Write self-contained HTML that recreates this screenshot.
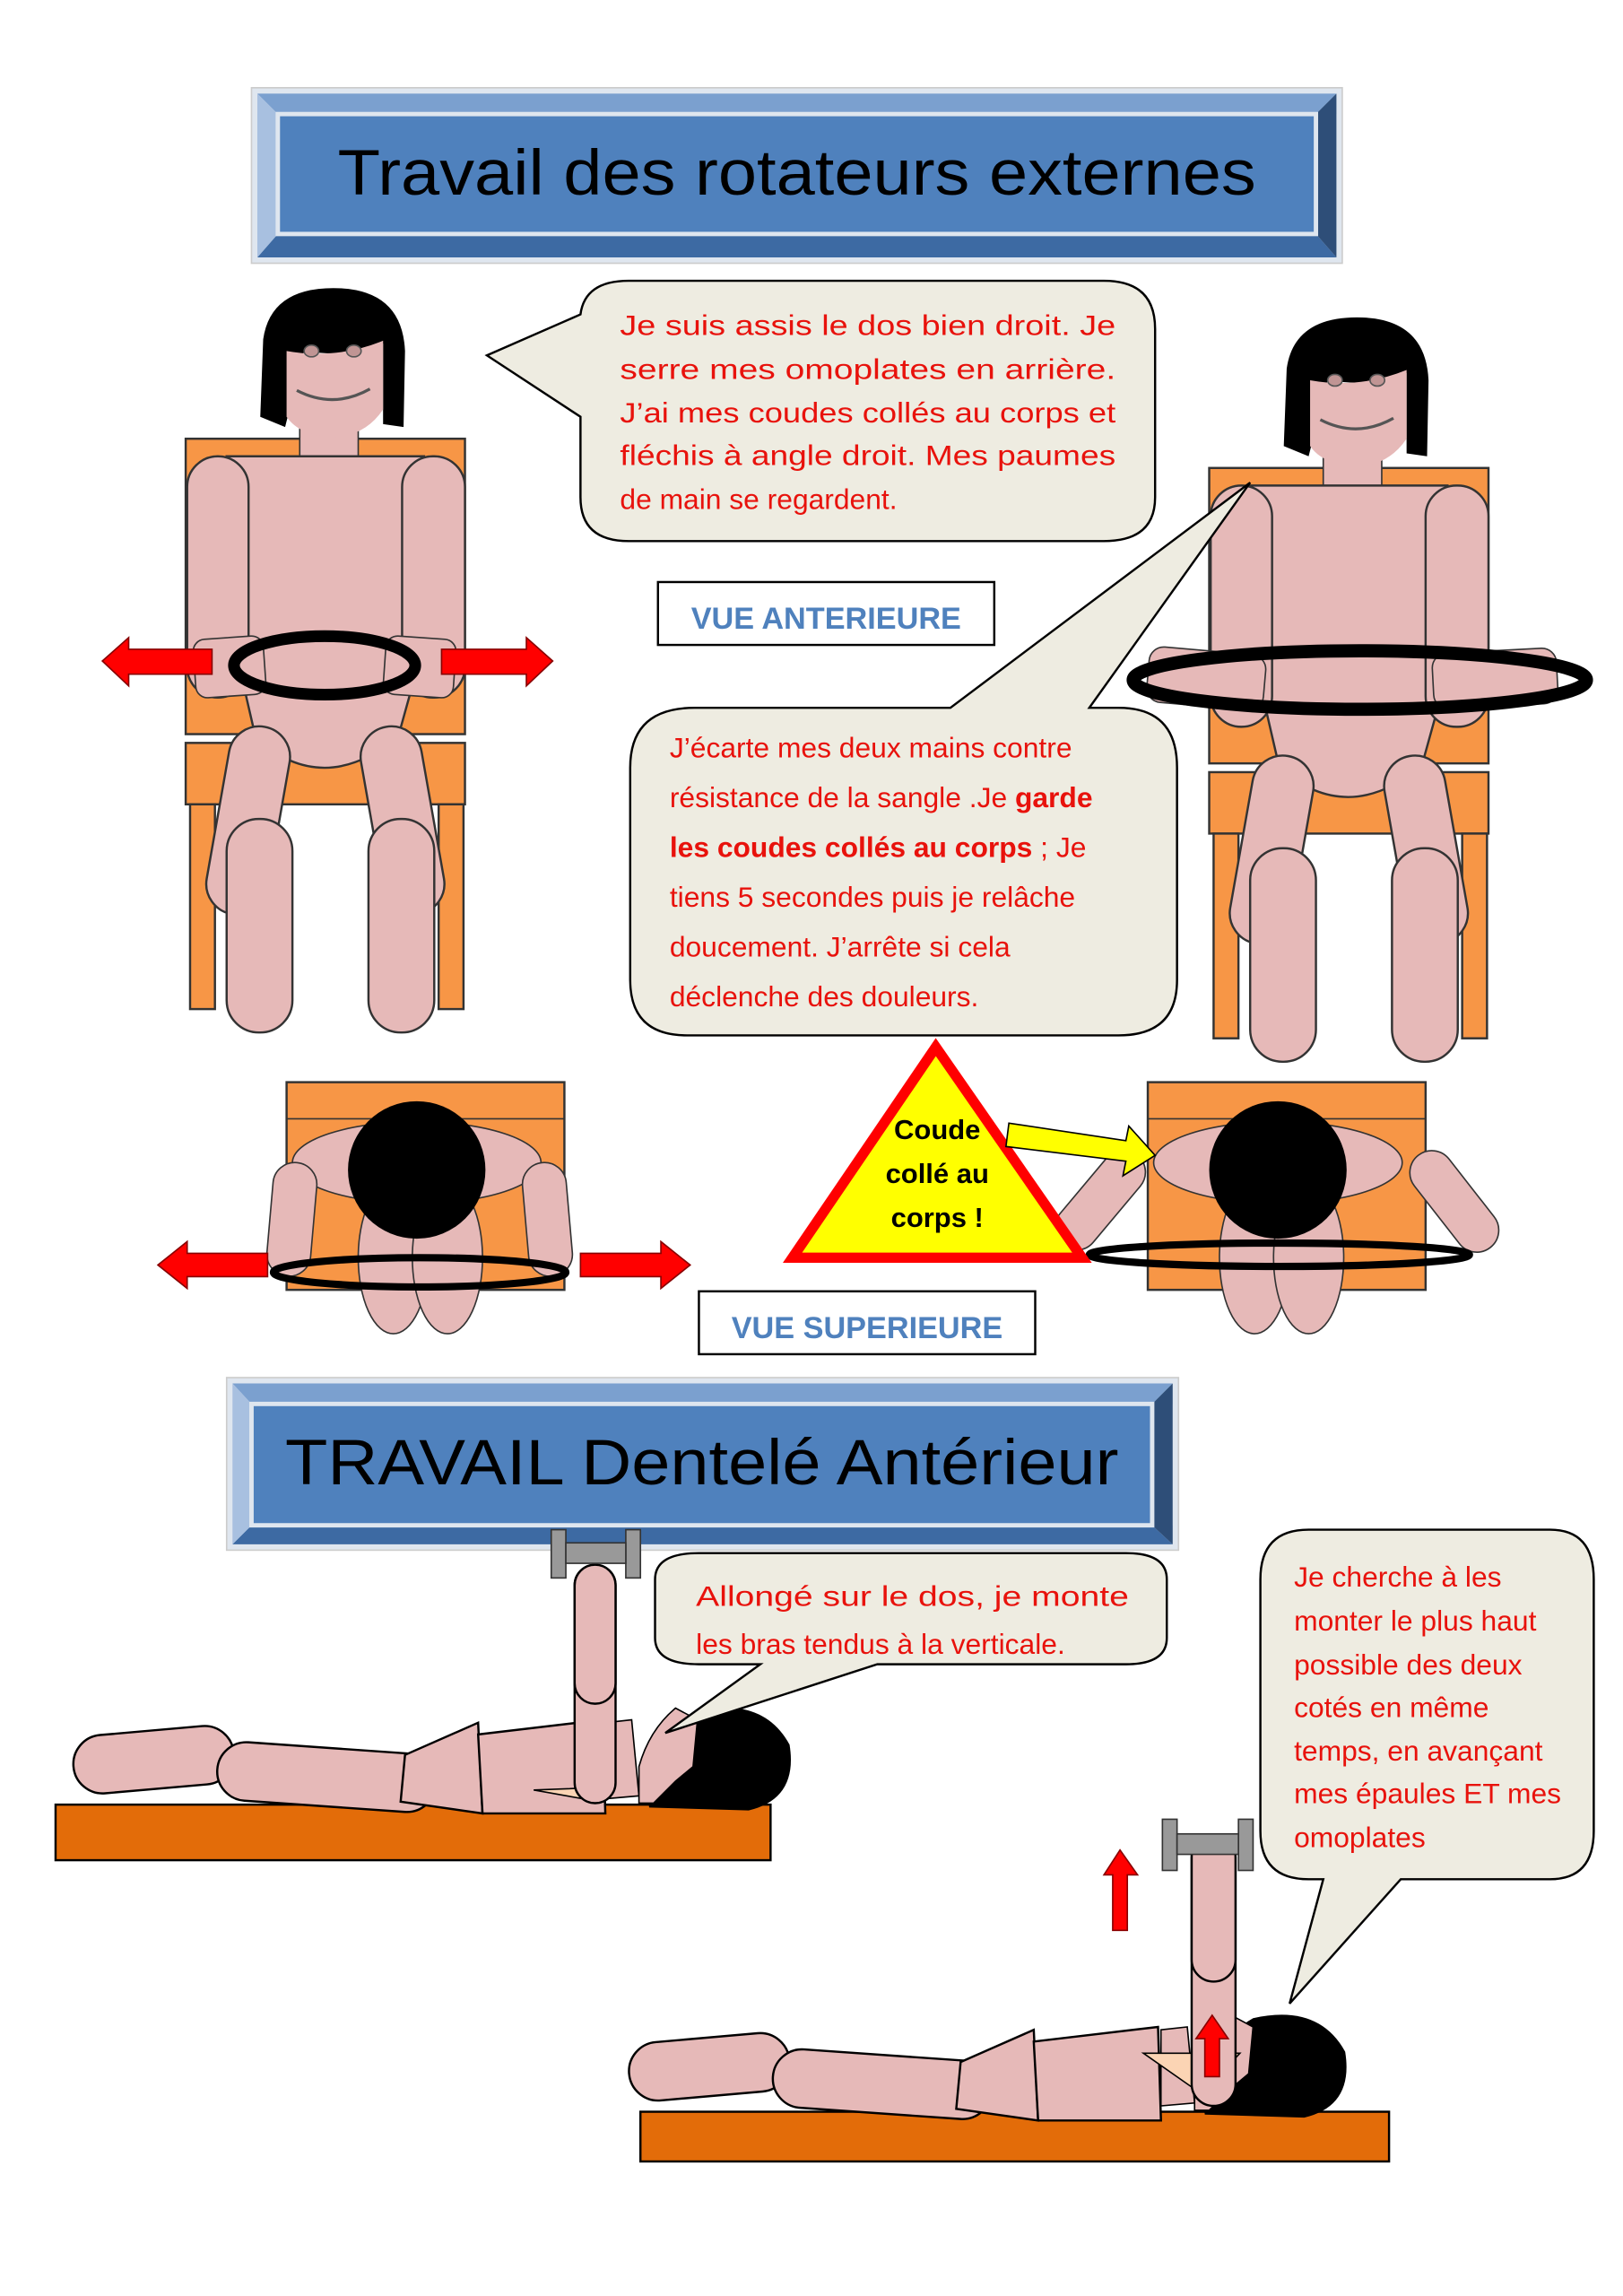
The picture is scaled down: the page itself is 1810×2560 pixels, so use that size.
<!DOCTYPE html>
<html><head><meta charset="utf-8"><style>
html,body{margin:0;padding:0;background:#fff}
svg{display:block}
.t{font-family:"Liberation Sans",sans-serif}
.r{fill:#e8120c;font-family:"Liberation Sans",sans-serif;font-size:19.5px}
.b{font-weight:bold}
</style></head><body>
<svg width="1810" height="2560" viewBox="0 0 1110 1570" preserveAspectRatio="none" xmlns="http://www.w3.org/2000/svg">
<defs>
<g id="seat">
 <rect x="127" y="300" width="191" height="202" fill="#f79646" stroke="#333" stroke-width="1.5"/>
 <rect x="127" y="508" width="191" height="42" fill="#f79646" stroke="#333" stroke-width="1.5"/>
 <rect x="130" y="550" width="17" height="140" fill="#f79646" stroke="#333" stroke-width="1.5"/>
 <rect x="300" y="550" width="17" height="140" fill="#f79646" stroke="#333" stroke-width="1.5"/>
 <rect x="205" y="288" width="40" height="26" fill="#e6b9b8" stroke="#333"/>
 <path d="M180 232 Q185 197 228 197 Q275 197 277 240 L276 292 L262 290 L262 235 Q240 245 208 240 L195 292 L178 285 Z" fill="#000"/>
 <path d="M196 240 Q230 246 262 233 L262 280 Q250 298 228 299 Q205 298 196 285 Z" fill="#e6b9b8"/>
 <ellipse cx="213" cy="240" rx="5" ry="4" fill="#c09594" stroke="#555"/>
 <ellipse cx="242" cy="240" rx="5" ry="4" fill="#c09594" stroke="#555"/>
 <path d="M203 267 Q228 280 253 266" fill="none" stroke="#555" stroke-width="2"/>
 <path d="M155 312 L290 312 L290 440 L272 505 Q245 525 222 525 Q198 525 175 505 L160 440 Z" fill="#e6b9b8" stroke="#333" stroke-width="1.5"/>
 <rect x="128" y="312" width="42" height="165" rx="21" fill="#e6b9b8" stroke="#333" stroke-width="1.5"/>
 <rect x="275" y="312" width="43" height="165" rx="21" fill="#e6b9b8" stroke="#333" stroke-width="1.5"/>
 <rect x="160" y="497" width="42" height="130" rx="21" fill="#e6b9b8" stroke="#333" stroke-width="1.5" transform="rotate(10 181 497)"/>
 <rect x="243" y="497" width="42" height="130" rx="21" fill="#e6b9b8" stroke="#333" stroke-width="1.5" transform="rotate(-10 264 497)"/>
 <rect x="155" y="560" width="45" height="146" rx="22" fill="#e6b9b8" stroke="#333" stroke-width="1.5"/>
 <rect x="252" y="560" width="45" height="146" rx="22" fill="#e6b9b8" stroke="#333" stroke-width="1.5"/>
</g>
<g id="top">
 <rect x="0" y="0" width="190" height="142" fill="#f79646" stroke="#333" stroke-width="1.5"/>
 <line x1="0" y1="25" x2="190" y2="25" stroke="#333"/>
 <ellipse cx="89" cy="55" rx="85" ry="28" fill="#e6b9b8" stroke="#333"/>
 <ellipse cx="73" cy="120" rx="24" ry="52" fill="#e6b9b8" stroke="#333"/>
 <ellipse cx="110" cy="120" rx="24" ry="52" fill="#e6b9b8" stroke="#333"/>
 <circle cx="89" cy="60" r="47" fill="#000"/>
</g>
<g id="lie">
 <rect x="0" y="0" width="110" height="40" rx="20" fill="#e6b9b8" stroke="#000" stroke-width="1.5" transform="rotate(-5 0 40)"/>
 <rect x="98" y="2" width="150" height="40" rx="20" fill="#e6b9b8" stroke="#000" stroke-width="1.5" transform="rotate(4 98 2)"/>
 <path d="M225 12 L275 -10 L278 52 L222 44 Z" fill="#e6b9b8" stroke="#000" stroke-width="1.5"/>
 <path d="M275 -2 L360 -12 L362 52 L278 52 Z" fill="#e6b9b8" stroke="#000" stroke-width="1.5"/>
 <path d="M362 -10 L380 -12 L385 40 L362 42Z" fill="#e6b9b8" stroke="#000"/>
 <path d="M392 48 Q385 5 425 -18 Q470 -28 488 5 Q494 42 460 50 Z" fill="#000"/>
 <path d="M385 45 L385 20 Q392 -5 410 -20 L425 -12 L422 20 L410 30 L395 45 Z" fill="#e6b9b8" stroke="#000"/>
</g>
</defs>

<!-- Title 1 -->
<rect x="172" y="60" width="746" height="120" fill="#dfe6ef" stroke="#ccc"/>
<polygon points="176,64 914,64 900,78 190,78" fill="#7ba0cf"/>
<polygon points="176,176 914,176 900,160 190,160" fill="#3d6aa3"/>
<polygon points="176,64 190,78 190,160 176,176" fill="#a8c0e0"/>
<polygon points="914,64 900,78 900,160 914,176" fill="#2e4e78"/>
<rect x="190" y="78" width="710" height="82" fill="#4f81bd" stroke="#dfe6ef" stroke-width="3"/>
<text x="545" y="133" text-anchor="middle" class="t" font-size="44" fill="#000" textLength="628" lengthAdjust="spacingAndGlyphs">Travail des rotateurs externes</text>

<use href="#seat"/>
<use href="#seat" transform="translate(700,20)"/>
<rect x="133" y="436" width="48" height="40" rx="8" fill="#e6b9b8" stroke="#333" transform="rotate(-4 157 456)"/>
<rect x="263" y="436" width="48" height="40" rx="8" fill="#e6b9b8" stroke="#333" transform="rotate(4 287 456)"/>
<ellipse cx="222" cy="455" rx="62" ry="20" fill="none" stroke="#000" stroke-width="8"/>
<polygon points="70,452 88,436 88,444 145,444 145,461 88,461 88,469" fill="#f00" stroke="#800"/>
<polygon points="378,452 360,436 360,444 302,444 302,461 360,461 360,469" fill="#f00" stroke="#800"/>
<rect x="785" y="445" width="80" height="38" rx="10" fill="#e6b9b8" stroke="#333" transform="rotate(5 825 464)"/>
<rect x="980" y="445" width="85" height="38" rx="10" fill="#e6b9b8" stroke="#333" transform="rotate(-3 1022 464)"/>
<ellipse cx="930" cy="465" rx="155" ry="20" fill="none" stroke="#000" stroke-width="9"/>

<!-- Bubble 1 -->
<path d="M430 192 L755 192 Q790 192 790 225 L790 340 Q790 370 755 370 L430 370 Q397 370 397 340 L397 285 L333 243 L397 215 Q400 192 430 192 Z" fill="#eeece1" stroke="#000" stroke-width="1.5"/>
<g class="r">
<text x="424" y="229" textLength="339" lengthAdjust="spacingAndGlyphs">Je suis assis le dos bien droit. Je</text>
<text x="424" y="259" textLength="339" lengthAdjust="spacingAndGlyphs">serre mes omoplates en arrière.</text>
<text x="424" y="289" textLength="339" lengthAdjust="spacingAndGlyphs">J’ai mes coudes collés au corps et</text>
<text x="424" y="318" textLength="339" lengthAdjust="spacingAndGlyphs">fléchis à angle droit. Mes paumes</text>
<text x="424" y="348">de main se regardent.</text>
</g>
<rect x="450" y="398" width="230" height="43" fill="#fff" stroke="#000" stroke-width="1.5"/>
<text x="565" y="430" text-anchor="middle" class="t b" font-size="21" fill="#4f81bd">VUE ANTERIEURE</text>

<!-- Bubble 2 -->
<path d="M475 484 L650 484 L855 330 L745 484 L765 484 Q805 484 805 525 L805 670 Q805 708 765 708 L470 708 Q431 708 431 670 L431 525 Q431 484 475 484 Z" fill="#eeece1" stroke="#000" stroke-width="1.5"/>
<g class="r">
<text x="458" y="518">J’écarte mes deux mains contre</text>
<text x="458" y="552">résistance de la sangle .Je <tspan class="b">garde</tspan></text>
<text x="458" y="586"><tspan class="b">les coudes collés au corps</tspan> ; Je</text>
<text x="458" y="620">tiens 5 secondes puis je relâche</text>
<text x="458" y="654">doucement. J’arrête si cela</text>
<text x="458" y="688">déclenche des douleurs.</text>
</g>

<!-- top views -->
<use href="#top" transform="translate(196,740)"/>
<rect x="188" y="795" width="30" height="78" rx="15" fill="#e6b9b8" stroke="#333" transform="rotate(5 203 795)"/>
<rect x="356" y="795" width="30" height="78" rx="15" fill="#e6b9b8" stroke="#333" transform="rotate(-5 371 795)"/>
<ellipse cx="287" cy="870" rx="100" ry="10" fill="none" stroke="#000" stroke-width="5"/>
<polygon points="108,865 128,849 128,857 183,857 183,873 128,873 128,881" fill="#f00" stroke="#800"/>
<polygon points="472,865 452,849 452,857 397,857 397,873 452,873 452,881" fill="#f00" stroke="#800"/>
<use href="#top" transform="translate(785,740)"/>
<rect x="763" y="790" width="30" height="80" rx="15" fill="#e6b9b8" stroke="#333" transform="rotate(40 778 790)"/>
<rect x="955" y="790" width="30" height="80" rx="15" fill="#e6b9b8" stroke="#333" transform="rotate(-38 970 790)"/>
<ellipse cx="875" cy="858" rx="130" ry="8" fill="none" stroke="#000" stroke-width="5"/>

<!-- warning -->
<polygon points="640,716 542,860 740,860" fill="#ff0" stroke="#f00" stroke-width="7" stroke-linejoin="miter"/>
<g class="t b" font-size="19" text-anchor="middle" fill="#000">
<text x="641" y="779">Coude</text><text x="641" y="809">collé au</text><text x="641" y="839">corps !</text>
</g>
<polygon points="690,768 770,780 772,770 790,790 768,804 770,794 688,784" fill="#ff0" stroke="#000" stroke-width="1"/>
<rect x="478" y="883" width="230" height="43" fill="#fff" stroke="#000" stroke-width="1.5"/>
<text x="593" y="915" text-anchor="middle" class="t b" font-size="21" fill="#4f81bd">VUE SUPERIEURE</text>

<!-- Title 2 -->
<rect x="155" y="942" width="651" height="118" fill="#dfe6ef" stroke="#ccc"/>
<polygon points="159,946 802,946 788,960 172,960" fill="#7ba0cf"/>
<polygon points="159,1056 802,1056 788,1043 172,1043" fill="#3d6aa3"/>
<polygon points="159,946 172,960 172,1043 159,1056" fill="#a8c0e0"/>
<polygon points="802,946 788,960 788,1043 802,1056" fill="#2e4e78"/>
<rect x="172" y="960" width="616" height="83" fill="#4f81bd" stroke="#dfe6ef" stroke-width="3"/>
<text x="480" y="1015" text-anchor="middle" class="t" font-size="44" fill="#000" textLength="570" lengthAdjust="spacingAndGlyphs">TRAVAIL Dentelé Antérieur</text>

<!-- benches -->
<rect x="38" y="1234" width="489" height="38" fill="#e36c09" stroke="#000" stroke-width="1.5"/>
<rect x="438" y="1444" width="512" height="34" fill="#e36c09" stroke="#000" stroke-width="1.5"/>

<!-- lying figure 1 -->
<use href="#lie" transform="translate(52,1188)"/>
<polygon points="365,1224 418,1222 410,1232" fill="#fbd4b4" stroke="#000"/>
<rect x="393" y="1070" width="28" height="163" rx="14" fill="#e6b9b8" stroke="#000" stroke-width="1.5"/>
<rect x="393" y="1070" width="28" height="95" rx="14" fill="#e6b9b8" stroke="#000" stroke-width="1.5"/>
<rect x="377" y="1046" width="10" height="33" fill="#999" stroke="#333"/>
<rect x="428" y="1046" width="10" height="33" fill="#999" stroke="#333"/>
<rect x="387" y="1055" width="41" height="14" fill="#999" stroke="#333"/>

<!-- bubble 3 -->
<path d="M478 1062 L770 1062 Q798 1062 798 1080 L798 1120 Q798 1138 770 1138 L600 1138 L455 1185 L520 1138 L478 1138 Q448 1138 448 1120 L448 1080 Q448 1062 478 1062 Z" fill="#eeece1" stroke="#000" stroke-width="1.5"/>
<g class="r">
<text x="476" y="1098" textLength="296" lengthAdjust="spacingAndGlyphs">Allongé sur le dos, je monte</text>
<text x="476" y="1131">les bras tendus à la verticale.</text>
</g>

<!-- lying figure 2 -->
<use href="#lie" transform="translate(432,1398)"/>
<polygon points="782,1404 848,1404 822,1432" fill="#fbd4b4" stroke="#000"/>
<rect x="815" y="1255" width="30" height="185" rx="15" fill="#e6b9b8" stroke="#000" stroke-width="1.5"/>
<rect x="815" y="1255" width="30" height="100" rx="15" fill="#e6b9b8" stroke="#000" stroke-width="1.5"/>
<rect x="795" y="1244" width="10" height="35" fill="#999" stroke="#333"/>
<rect x="847" y="1244" width="10" height="35" fill="#999" stroke="#333"/>
<rect x="805" y="1254" width="42" height="14" fill="#999" stroke="#333"/>
<polygon points="766,1265 755,1282 761,1282 761,1320 771,1320 771,1282 778,1282" fill="#f00" stroke="#800"/>
<polygon points="829,1378 818,1394 824,1394 824,1420 834,1420 834,1394 840,1394" fill="#f00" stroke="#800"/>

<!-- bubble 4 -->
<path d="M895 1046 L1060 1046 Q1090 1046 1090 1080 L1090 1252 Q1090 1285 1060 1285 L958 1285 L882 1370 L905 1285 L895 1285 Q862 1285 862 1252 L862 1080 Q862 1046 895 1046 Z" fill="#eeece1" stroke="#000" stroke-width="1.5"/>
<g class="r">
<text x="885" y="1085">Je cherche à les</text>
<text x="885" y="1115">monter le plus haut</text>
<text x="885" y="1145">possible des deux</text>
<text x="885" y="1174">cotés en même</text>
<text x="885" y="1204">temps, en avançant</text>
<text x="885" y="1233">mes épaules ET mes</text>
<text x="885" y="1263">omoplates</text>
</g>
</svg>
</body></html>
